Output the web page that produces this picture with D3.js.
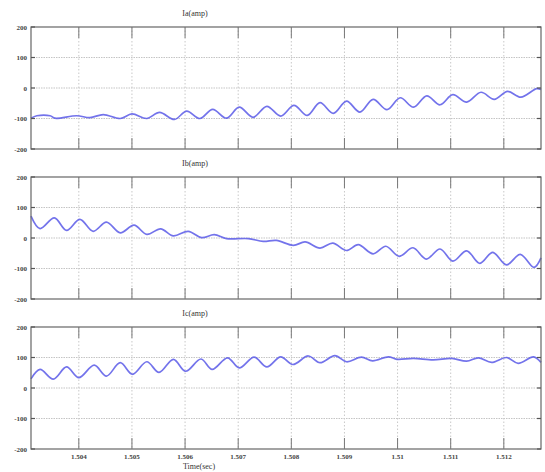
<!DOCTYPE html>
<html><head><meta charset="utf-8">
<script src="https://cdn.jsdelivr.net/npm/d3@7/dist/d3.min.js"></script>
<style>body{margin:0;background:#fff}svg{display:block}</style>
</head><body>
<svg id="c" width="545" height="472"></svg>
<script>
const xTicks = [1.504,1.505,1.506,1.507,1.508,1.509,1.510,1.511,1.512];
const xTickLabels = ["1.504","1.505","1.506","1.507","1.508","1.509","1.51","1.511","1.512"];
const yTicks = [200,100,0,-100,-200];
const titles = ["Ia(amp)","Ib(amp)","Ic(amp)"];
const xLabel = "Time(sec)";

const iaT = [1.50310,1.50321,1.50346,1.50355,1.50396,1.50421,1.50446,1.50478,1.50500,1.50528,1.50552,1.50580,1.50603,1.50628,1.50652,1.50678,1.50702,1.50728,1.50754,1.50780,1.50805,1.50830,1.50854,1.50879,1.50904,1.50929,1.50954,1.50980,1.51005,1.51030,1.51055,1.51080,1.51104,1.51130,1.51157,1.51182,1.51207,1.51232,1.51262,1.51270];
const iaV = [-99,-91,-91,-99,-91,-97,-87,-100,-85,-100,-80,-103,-76,-100,-70,-99,-63,-96,-60,-92,-57,-90,-48,-83,-43,-79,-37,-71,-32,-63,-26,-55,-22,-46,-14,-37,-11,-30,-2,-5];

const ibT = [1.50310,1.50327,1.50354,1.50377,1.50402,1.50427,1.50452,1.50478,1.50504,1.50528,1.50554,1.50578,1.50606,1.50631,1.50655,1.50678,1.50719,1.50747,1.50772,1.50804,1.50826,1.50854,1.50878,1.50904,1.50926,1.50954,1.50978,1.51003,1.51029,1.51054,1.51080,1.51104,1.51130,1.51155,1.51179,1.51205,1.51231,1.51257,1.51270];
const ibV = [72,31,66,25,61,22,52,17,42,12,30,7,22,1,11,-2,-2,-11,-8,-24,-13,-33,-17,-41,-22,-52,-27,-60,-32,-69,-36,-76,-42,-83,-47,-88,-54,-96,-65];

const icT = [1.50310,1.50327,1.50352,1.50377,1.50400,1.50429,1.50452,1.50478,1.50501,1.50528,1.50551,1.50578,1.50601,1.50630,1.50651,1.50680,1.50702,1.50730,1.50754,1.50780,1.50803,1.50832,1.50854,1.50882,1.50904,1.50932,1.50953,1.50983,1.50999,1.51030,1.51067,1.51102,1.51130,1.51152,1.51177,1.51205,1.51227,1.51256,1.51270];
const icV = [30,61,29,69,34,75,39,83,45,86,51,94,55,95,61,99,66,101,69,102,77,105,83,106,86,101,89,102,94,97,92,97,88,99,84,100,81,102,84];

const seriesT = [iaT, ibT, icT];
const seriesV = [iaV, ibV, icV];

const svg = d3.select("#c");
const L = 31, R = 541, H = 122;
const tops = [27, 177, 327];
const font = "'Liberation Serif', serif";
const x = d3.scaleLinear().domain([1.5031, 1.5127]).range([L, R]);

tops.forEach((top, i) => {
  const y = d3.scaleLinear().domain([-200, 200]).range([top + H, top]);
  const g = svg.append("g");
  g.selectAll(".hg").data(yTicks.slice(1, -1)).join("line")
    .attr("x1", L).attr("x2", R).attr("y1", d => y(d)).attr("y2", d => y(d))
    .attr("stroke", "#c4c4c4").attr("stroke-width", 1.2).attr("stroke-dasharray", "1.5,1");
  g.selectAll(".vg").data(xTicks).join("line")
    .attr("x1", d => x(d)).attr("x2", d => x(d)).attr("y1", top).attr("y2", top + H)
    .attr("stroke", "#c8c8c8").attr("stroke-width", 1).attr("stroke-dasharray", "1.5,2");
  const data = seriesT[i].map((t, k) => [t, seriesV[i][k]]);
  g.append("path").datum(data)
    .attr("d", d3.line().x(d => x(d[0])).y(d => y(d[1])).curve(d3.curveCatmullRom.alpha(0.5)))
    .attr("fill", "none").attr("stroke", "#5a5ae8").attr("stroke-width", 1.7)
    .attr("stroke-opacity", 0.85);
  g.append("rect").attr("x", L).attr("y", top).attr("width", R - L).attr("height", H)
    .attr("fill", "none").attr("stroke", "#666").attr("stroke-width", 1.2);
  const tl = 11;
  g.selectAll(".xtb").data(xTicks).join("line")
    .attr("x1", d => x(d)).attr("x2", d => x(d)).attr("y1", top + H).attr("y2", top + H - tl)
    .attr("stroke", "#777").attr("stroke-width", 1);
  g.selectAll(".xtt").data(xTicks).join("line")
    .attr("x1", d => x(d)).attr("x2", d => x(d)).attr("y1", top).attr("y2", top + tl)
    .attr("stroke", "#777").attr("stroke-width", 1);
  g.selectAll(".ytl").data(yTicks).join("line")
    .attr("x1", L).attr("x2", L + 4).attr("y1", d => y(d)).attr("y2", d => y(d))
    .attr("stroke", "#555").attr("stroke-width", 1.2);
  g.selectAll(".ytr").data(yTicks).join("line")
    .attr("x1", R).attr("x2", R - 4).attr("y1", d => y(d)).attr("y2", d => y(d))
    .attr("stroke", "#555").attr("stroke-width", 1.2);
  g.selectAll(".yl").data(yTicks).join("text")
    .attr("x", 27).attr("y", d => y(d) + 2.5).attr("text-anchor", "end")
    .attr("font-family", font).attr("font-size", 7).attr("font-weight", "bold").attr("fill", "#444")
    .text(d => d);
  g.append("text").attr("x", 195).attr("y", top - 11).attr("text-anchor", "middle")
    .attr("font-family", font).attr("font-size", 8).attr("fill", "#333").text(titles[i]);
  if (i === 2) {
    g.selectAll(".xl").data(xTicks).join("text")
      .attr("x", d => x(d)).attr("y", top + H + 10).attr("text-anchor", "middle")
      .attr("font-family", font).attr("font-size", 7).attr("font-weight", "bold").attr("fill", "#444")
      .text((d, k) => xTickLabels[k]);
  }
});
svg.append("text").attr("x", 199).attr("y", 469).attr("text-anchor", "middle")
  .attr("font-family", font).attr("font-size", 8).attr("fill", "#333").text(xLabel);
</script>
</body></html>
